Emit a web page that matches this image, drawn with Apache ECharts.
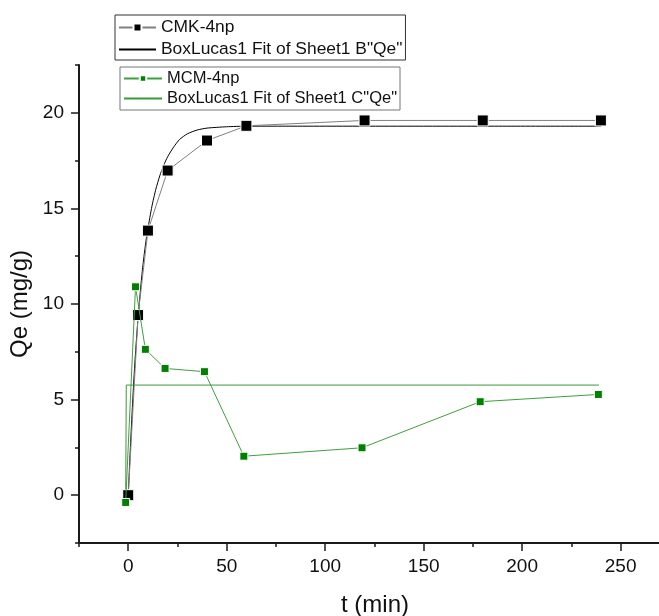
<!DOCTYPE html>
<html><head><meta charset="utf-8">
<script src="https://cdn.jsdelivr.net/npm/echarts@6/dist/echarts.min.js"></script>
<style>html,body{margin:0;padding:0;background:#fff}#c{width:659px;height:616px}</style>
</head><body><div id="c"></div>
<script>
// Data
const cmkT = [0, 5, 10, 20, 40, 60, 120, 180, 240];
const cmkQe = [0, 9.42, 13.84, 16.98, 18.55, 19.32, 19.6, 19.6, 19.6];
const cmkFitT = [0, 1, 2, 3, 4, 5, 6, 7, 8, 9, 10, 12, 14, 16, 18, 20, 23, 26, 30, 35, 40, 50, 60, 80, 120, 180, 240];
const cmkFitQe = [0, 2.3, 4.4, 6.3, 7.9, 9.3, 10.5, 11.6, 12.5, 13.3, 13.95, 15.1, 16.0, 16.7, 17.25, 17.7, 18.2, 18.6, 18.9, 19.1, 19.2, 19.27, 19.3, 19.3, 19.3, 19.3, 19.3];
const mcmT = [-1.3, 3.7, 8.7, 18.7, 38.7, 58.7, 118.7, 178.7, 238.7];
const mcmQe = [-0.38, 10.9, 7.63, 6.63, 6.46, 2.04, 2.48, 4.89, 5.27];
const mcmFitT = [-1.3, -1.0, 239];
const mcmFitQe = [-0.38, 5.76, 5.76];
const xMajorTicks = [0, 50, 100, 150, 200, 250];
const yMajorTicks = [0, 5, 10, 15, 20];
const seriesNames = ['CMK-4np', 'BoxLucas1 Fit of Sheet1 B"Qe"', 'MCM-4np', 'BoxLucas1 Fit of Sheet1 C"Qe"'];
const xTitle = 't (min)';
const yTitle = 'Qe (mg/g)';

const zip = (a, b) => a.map((v, i) => [v, b[i]]);
const FONT = '"Liberation Sans", Arial, sans-serif';

const chart = echarts.init(document.getElementById('c'), null, {renderer: 'canvas'});
const axisLine = {show: true, onZero: false, lineStyle: {color: '#1a1a1a', width: 2}};
const noLine = {show: false, onZero: false};

chart.setOption({
  animation: false,
  backgroundColor: '#ffffff',
  textStyle: {fontFamily: FONT},
  grid: {left: 79, top: 65, width: 581, height: 478, containLabel: false, outerBoundsMode: 'none'},
  xAxis: [
    {type: 'value', min: -25, max: 270, interval: 25, position: 'bottom',
     axisLine: axisLine, axisTick: {show: true, length: 4, lineStyle: {color: '#1a1a1a', width: 1.5}},
     axisLabel: {show: false}, splitLine: {show: false}},
    {type: 'value', min: -25, max: 270, position: 'bottom',
     axisLine: noLine,
     axisTick: {show: true, length: 8, customValues: xMajorTicks, lineStyle: {color: '#1a1a1a', width: 1.5}},
     axisLabel: {show: true, customValues: xMajorTicks, margin: 14, fontSize: 19, color: '#111', fontFamily: FONT},
     splitLine: {show: false},
     name: xTitle, nameLocation: 'middle', nameGap: 50,
     nameTextStyle: {fontSize: 24, color: '#111', fontFamily: FONT, padding: [0, 0, 0, 11]}}
  ],
  yAxis: [
    {type: 'value', min: -2.5, max: 22.5, interval: 2.5, position: 'left',
     axisLine: axisLine, axisTick: {show: true, length: 4, lineStyle: {color: '#1a1a1a', width: 1.5}},
     axisLabel: {show: false}, splitLine: {show: false}},
    {type: 'value', min: -2.5, max: 22.5, position: 'left',
     axisLine: noLine,
     axisTick: {show: true, length: 8, customValues: yMajorTicks, lineStyle: {color: '#1a1a1a', width: 1.5}},
     axisLabel: {show: true, customValues: yMajorTicks, margin: 15, fontSize: 19, color: '#111', fontFamily: FONT},
     splitLine: {show: false},
     name: yTitle, nameLocation: 'middle', nameGap: 45, nameRotate: 90,
     nameTextStyle: {fontSize: 24, color: '#111', fontFamily: FONT}}
  ],
  legend: [
    {data: [seriesNames[0], {name: seriesNames[1], itemStyle: {opacity: 0}}],
     orient: 'vertical', left: 115, top: 15,
     padding: [4, 3, 2, 3], itemGap: 5, itemWidth: 37, itemHeight: 10,
     borderColor: '#333', borderWidth: 1,
     textStyle: {fontSize: 17.4, lineHeight: 17, color: '#111', fontFamily: FONT}},
    {data: [seriesNames[2], {name: seriesNames[3], itemStyle: {opacity: 0}}],
     orient: 'vertical', left: 120, top: 67,
     padding: [3, 3, 3, 3], itemGap: 3, itemWidth: 38, itemHeight: 8,
     borderColor: '#777', borderWidth: 1,
     textStyle: {fontSize: 16.5, lineHeight: 17, color: '#111', fontFamily: FONT}}
  ],
  series: [
    {name: seriesNames[0], type: 'line', xAxisIndex: 0, yAxisIndex: 0,
     data: zip(cmkT, cmkQe), symbol: 'rect', symbolSize: 11,
     itemStyle: {color: '#000', borderColor: '#fff', borderWidth: 1},
     lineStyle: {color: '#808080', width: 1}, z: 3},
    {name: seriesNames[1], type: 'line', xAxisIndex: 0, yAxisIndex: 0,
     data: zip(cmkFitT, cmkFitQe), symbol: 'none', smooth: 0.2,
     itemStyle: {color: '#000'}, lineStyle: {color: '#000', width: 1}, z: 2},
    {name: seriesNames[2], type: 'line', xAxisIndex: 0, yAxisIndex: 0,
     data: zip(mcmT, mcmQe), symbol: 'rect', symbolSize: 8,
     itemStyle: {color: '#008000', borderColor: '#fff', borderWidth: 1},
     lineStyle: {color: '#3f9f3f', width: 1}, z: 4},
    {name: seriesNames[3], type: 'line', xAxisIndex: 0, yAxisIndex: 0,
     data: zip(mcmFitT, mcmFitQe), symbol: 'none',
     itemStyle: {color: '#2e8b2e'}, lineStyle: {color: '#3a9a3a', width: 1}, z: 2}
  ]
});
</script></body></html>
